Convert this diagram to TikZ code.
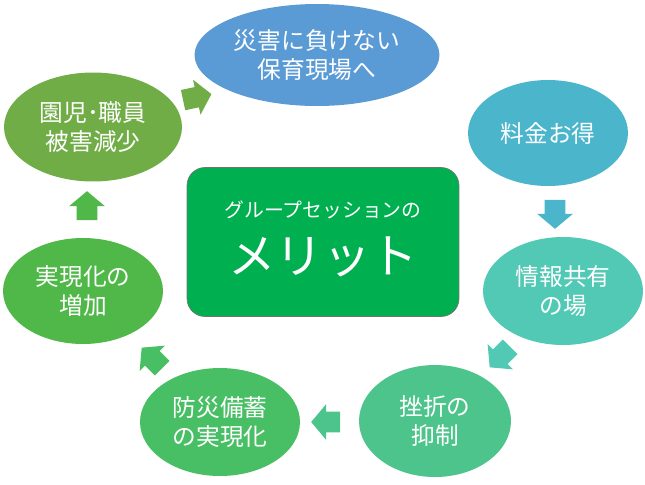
\documentclass[tikz,border=0pt]{standalone}
\usepackage{fontspec}
\setmainfont{Noto Sans CJK JP}
\usetikzlibrary{shapes.geometric,shapes.arrows}

\definecolor{cBlue}{HTML}{5B9BD5}
\definecolor{cOlive}{HTML}{70AD47}
\definecolor{cSky}{HTML}{4BB5CB}
\definecolor{cTeal}{HTML}{52C9B5}
\definecolor{cMint}{HTML}{4DC48C}
\definecolor{cLeaf}{HTML}{48BF64}
\definecolor{cGrass}{HTML}{50B848}
\definecolor{cCore}{HTML}{00B050}

\begin{document}
\begin{tikzpicture}[x=0.02cm, y=-0.02cm,
    merit/.style={ellipse, fill=#1, text=white, align=center, inner sep=0pt,
      font=\fontsize{13.5}{17}\selectfont},
    flow/.style={single arrow, fill=#1, inner xsep=0pt, inner ysep=0.2cm,
      minimum height=0.58cm, minimum width=0.7cm, single arrow head extend=0.15cm,
      single arrow tip angle=100}]
  \useasboundingbox (0,0) rectangle (645,484);

  % benefits round the centre
  \node[merit=cBlue, minimum width=4.9cm, minimum height=2.04cm] (saigai) at (317,55) {災害に負けない\\保育現場へ};
  \node[merit=cSky, minimum width=3.2cm, minimum height=2.12cm] (ryokin) at (548,133) {料金お得};
  \node[merit=cTeal, minimum width=3.2cm, minimum height=2.16cm] (joho) at (563,291) {情報共有\\の場};
  \node[merit=cMint, minimum width=3.04cm, minimum height=2.24cm] (zasetsu) at (435,421) {挫折の\\抑制};
  \node[merit=cLeaf, minimum width=3.2cm, minimum height=2.16cm] (bousai) at (220,422) {防災備蓄\\の実現化};
  \node[merit=cGrass, minimum width=3.2cm, minimum height=2.12cm] (jitsugen) at (83,291) {実現化の\\増加};
  \node[merit=cOlive, minimum width=3.56cm, minimum height=2.18cm] (enji) at (93,127) {園児･職員\\被害減少};

  % centre box
  \node[rounded corners=0.36cm, fill=cCore, draw=black!55, minimum width=5.44cm,
    minimum height=2.98cm] (core) at (323,242) {};
  \node[text=white, font=\fontsize{11.3}{14}\selectfont] (coretop) at (323,210) {グループセッションの};
  \node[text=white, font=\fontsize{27}{32}\selectfont] (corebig) at (323,257) {メリット};

  % block arrows
  \node[flow=cOlive, rotate=12] (a1) at (193,98) {};
  \node[flow=cSky, rotate=-90] (a2) at (555,210) {};
  \node[flow=cTeal, rotate=-135] (a3) at (503,354) {};
  \node[flow=cMint, rotate=180] (a4) at (330,422) {};
  \node[flow=cLeaf, rotate=135] (a5) at (155,361) {};
  \node[flow=cGrass, rotate=90] (a6) at (87,210) {};
\end{tikzpicture}
\end{document}
